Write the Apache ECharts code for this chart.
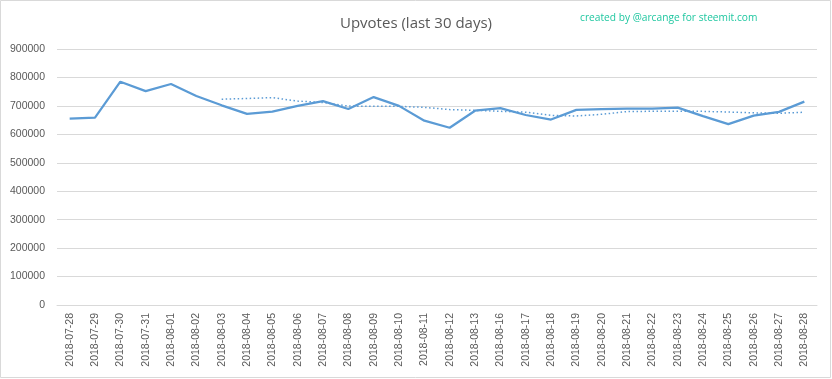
<!DOCTYPE html>
<html><head><meta charset="utf-8">
<script src="https://cdn.jsdelivr.net/npm/echarts@6/dist/echarts.min.js"></script>
<style>html,body{margin:0;padding:0;background:#fff}#c{width:832px;height:379px}</style>
</head><body><div id="c"></div>
<script>
const categories = ['2018-07-28','2018-07-29','2018-07-30','2018-07-31','2018-08-01','2018-08-02','2018-08-03','2018-08-04','2018-08-05','2018-08-06','2018-08-07','2018-08-08','2018-08-09','2018-08-10','2018-08-11','2018-08-12','2018-08-13','2018-08-16','2018-08-17','2018-08-18','2018-08-19','2018-08-20','2018-08-21','2018-08-22','2018-08-23','2018-08-24','2018-08-25','2018-08-26','2018-08-27','2018-08-28'];
const upvotes = [655000,659000,785000,752000,777000,735000,702000,672000,680000,700000,717000,689000,731000,700000,648000,623000,683000,692000,668000,652000,686000,689000,690000,690000,694000,664000,636000,666000,679000,715000];
const trend = [null,null,null,null,null,null,723600,726000,729000,716900,711900,699300,698700,698400,695000,686900,684400,680900,677900,666600,664600,670400,680000,681000,681300,680700,678400,675600,674100,677700];
const yTicks = {min:0, max:900000, interval:100000};
const titleText = 'Upvotes (last 30 days)';
const creditText = 'created by @arcange for steemit.com';

const chart = echarts.init(document.getElementById('c'));
chart.setOption({
  animation:false,
  backgroundColor:'#fff',
  title:[
    {text:titleText,left:'center',top:11,textStyle:{fontFamily:'Open Sans',fontSize:15,fontWeight:'normal',color:'#595959'}},
    {text:creditText,left:575,top:8,textStyle:{fontFamily:'Open Sans',fontSize:10.2,fontWeight:'normal',color:'#1fc7a0'}}
  ],
  graphic:[{type:'rect',shape:{x:0.5,y:0.5,width:830,height:377},style:{fill:'none',stroke:'#d9d9d9',lineWidth:1}}],
  grid:{left:57,right:15,top:49,bottom:74,containLabel:false},
  xAxis:{type:'category',data:categories,boundaryGap:true,
    axisLine:{lineStyle:{color:'#d9d9d9'}},axisTick:{show:false},
    axisLabel:{rotate:90,interval:0,fontFamily:'Liberation Sans',fontSize:10.5,color:'#595959',margin:8}},
  yAxis:{type:'value',min:yTicks.min,max:yTicks.max,interval:yTicks.interval,
    axisLine:{show:false},axisTick:{show:false},
    splitLine:{lineStyle:{color:'#d9d9d9',width:1}},
    axisLabel:{fontFamily:'Liberation Sans',fontSize:10.5,color:'#595959',margin:12,formatter:v=>String(v)}},
  series:[
    {type:'line',data:upvotes,symbol:'none',lineStyle:{color:'#5b9bd5',width:2.25},itemStyle:{color:'#5b9bd5'}},
    {type:'line',data:trend,symbol:'none',lineStyle:{color:'#5b9bd5',width:1.5,type:[1.5,2.5]},itemStyle:{color:'#5b9bd5'}}
  ]
});
</script></body></html>
